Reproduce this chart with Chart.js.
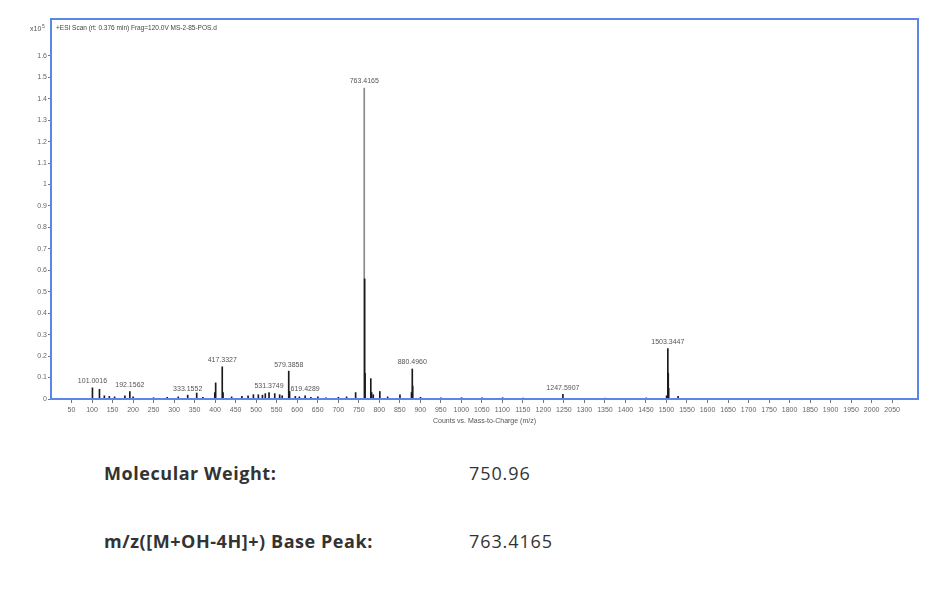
<!DOCTYPE html>
<html>
<head>
<meta charset="utf-8">
<script src="https://cdn.jsdelivr.net/npm/chart.js@4.4.1/dist/chart.umd.min.js"></script>
<style>
  body { margin: 0; background: #fff; }
  .wrap { position: relative; width: 942px; height: 591px; }
  canvas { position: absolute; left: 0; top: 0; }
  .info { position: absolute; font-family: "Open Sans", sans-serif; font-size: 18px; color: #333; white-space: nowrap; }
  .info.label { font-weight: bold; left: 104px; letter-spacing: 0.55px; }
  .info.value { left: 469px; letter-spacing: 0.9px; }
</style>
</head>
<body>
<div class="wrap">
  <canvas id="ms" width="942" height="430"></canvas>
  <div class="info label" style="top:461px">Molecular Weight:</div>
  <div class="info value" style="top:461px">750.96</div>
  <div class="info label" style="top:529px">m/z([M+OH-4H]+) Base Peak:</div>
  <div class="info value" style="top:529px">763.4165</div>
</div>
<script>
// m/z of each stick and its intensity (x10^5 counts)
const mzValues = [
  101.0016, 118.1, 130.0, 142.1, 155.0, 180.1, 192.1562, 200.1, 250.0, 283.2,
  310.1, 333.1552, 355.1, 370.2, 399.2, 401.3, 417.3327, 419.3, 440.2, 465.3,
  480.3, 493.3, 505.3, 515.3, 522.3, 531.3749, 545.3, 557.3, 563.4, 579.3858,
  581.4, 595.4, 605.4, 619.4289, 633.4, 650.4, 670.4, 700.4, 720.4, 742.4,
  763.4165, 764.42, 765.4, 779.4, 781.4, 785.4, 801.4, 820.4, 850.5, 878.5,
  880.496, 881.5, 900.5, 950.5, 1000.5, 1050.5, 1100.6, 1150.6, 1247.5907, 1350.6,
  1450.7, 1500.3, 1503.3447, 1504.35, 1505.35, 1528.3
];
const intensities = [
  0.052, 0.045, 0.015, 0.012, 0.010, 0.015, 0.035, 0.010, 0.006, 0.008,
  0.010, 0.018, 0.028, 0.008, 0.030, 0.075, 0.150, 0.030, 0.010, 0.012,
  0.015, 0.020, 0.020, 0.018, 0.025, 0.030, 0.025, 0.020, 0.015, 0.130,
  0.035, 0.012, 0.010, 0.015, 0.008, 0.010, 0.006, 0.008, 0.010, 0.030,
  1.450, 0.560, 0.120, 0.095, 0.030, 0.020, 0.035, 0.010, 0.020, 0.030,
  0.140, 0.060, 0.008, 0.005, 0.006, 0.005, 0.006, 0.004, 0.022, 0.004,
  0.005, 0.015, 0.235, 0.120, 0.050, 0.012
];
// labelled peaks
const labelledPeaks = [
  101.0016, 192.1562, 333.1552, 417.3327, 531.3749, 579.3858,
  619.4289, 763.4165, 880.496, 1247.5907, 1503.3447
];
const peakText = [
  '101.0016', '192.1562', '333.1552', '417.3327', '531.3749', '579.3858',
  '619.4289', '763.4165', '880.4960', '1247.5907', '1503.3447'
];
const xTicks = [50, 100, 150, 200, 250, 300, 350, 400, 450, 500, 550, 600, 650, 700, 750, 800,
  850, 900, 950, 1000, 1050, 1100, 1150, 1200, 1250, 1300, 1350, 1400, 1450, 1500, 1550, 1600,
  1650, 1700, 1750, 1800, 1850, 1900, 1950, 2000, 2050];
const yTicks = [0, 0.1, 0.2, 0.3, 0.4, 0.5, 0.6, 0.7, 0.8, 0.9, 1, 1.1, 1.2, 1.3, 1.4, 1.5, 1.6];

const headerText = '+ESI Scan (rt: 0.376 min) Frag=120.0V MS-2-85-POS.d';
const xTitle = 'Counts vs. Mass-to-Charge (m/z)';

const decor = {
  id: 'decor',
  afterDatasetsDraw(chart) {
    const { ctx, chartArea: a, scales } = chart;
    ctx.save();
    // peak labels
    ctx.font = '7px "Liberation Sans", Arial, sans-serif';
    ctx.fillStyle = '#555';
    ctx.textAlign = 'center';
    ctx.textBaseline = 'bottom';
    labelledPeaks.forEach((mz, i) => {
      const h = intensities[mzValues.indexOf(mz)];
      const px = scales.x.getPixelForValue(mz);
      const py = scales.y.getPixelForValue(h);
      ctx.fillText(peakText[i], px, py - 3);
    });
    // frame
    ctx.strokeStyle = '#5b86e5';
    ctx.lineWidth = 2;
    ctx.strokeRect(a.left, a.top, a.right - a.left, a.bottom - a.top);
    // header
    ctx.textAlign = 'left';
    ctx.textBaseline = 'middle';
    ctx.fillStyle = '#444';
    ctx.font = '6.5px "Liberation Sans", Arial, sans-serif';
    ctx.fillText(headerText, a.left + 5, a.top + 9);
    // y multiplier
    ctx.font = '7px "Liberation Sans", Arial, sans-serif';
    ctx.fillStyle = '#555';
    ctx.fillText('x10', 30, a.top + 10);
    ctx.font = '5px "Liberation Sans", Arial, sans-serif';
    ctx.fillText('5', 42, a.top + 8);
    // x axis title
    ctx.font = '7px "Liberation Sans", Arial, sans-serif';
    ctx.textAlign = 'center';
    ctx.fillText(xTitle, (a.left + a.right) / 2, 421);
    ctx.restore();
  }
};

new Chart(document.getElementById('ms'), {
  type: 'bar',
  data: {
    datasets: [{
      data: mzValues.map((mz, i) => ({ x: mz, y: intensities[i] })),
      backgroundColor: mzValues.map(mz => mz === 763.4165 ? '#8a8a8a' : '#1a1a1a'),
      barThickness: 1
    }]
  },
  options: {
    responsive: false,
    animation: false,
    devicePixelRatio: 1,
    layout: { padding: { top: 19, right: 24, left: 0, bottom: 0 } },
    plugins: { legend: { display: false }, tooltip: { enabled: false } },
    scales: {
      x: {
        type: 'linear',
        offset: false,
        min: 0,
        max: 2113,
        afterBuildTicks: s => { s.ticks = xTicks.map(v => ({ value: v })); },
        afterFit: s => { s.height = 31; },
        border: { display: false },
        grid: { offset: false, drawOnChartArea: false, tickLength: 4, color: '#777' },
        ticks: { font: { size: 7 }, color: '#666', maxRotation: 0, autoSkip: false, padding: 3,
          callback: v => String(v) }
      },
      y: {
        min: 0,
        max: 1.772,
        afterBuildTicks: s => { s.ticks = yTicks.map(v => ({ value: v })); },
        afterFit: s => { s.width = 51; },
        border: { display: false },
        grid: { drawOnChartArea: false, tickLength: 3, color: '#777' },
        ticks: { font: { size: 7 }, color: '#666', padding: 1, callback: v => String(v) }
      }
    }
  },
  plugins: [decor]
});
</script>
</body>
</html>
